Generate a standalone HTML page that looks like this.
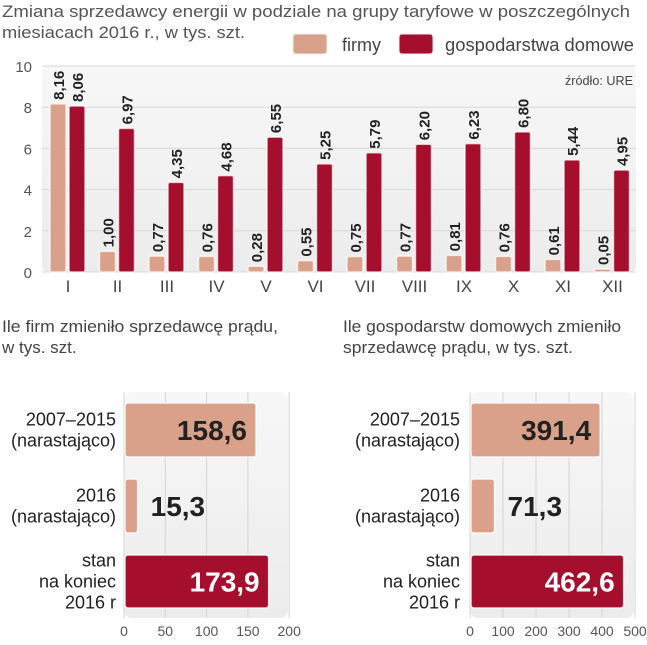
<!DOCTYPE html>
<html><head><meta charset="utf-8"><style>
body{margin:0;background:#fff;width:647px;height:640px;overflow:hidden;font-family:"Liberation Sans",sans-serif}
svg text{font-family:"Liberation Sans",sans-serif}
</style></head><body>
<svg id="c" width="647" height="640" xmlns="http://www.w3.org/2000/svg">
<defs>
<linearGradient id="bg" x1="0" y1="0" x2="0" y2="1"><stop offset="0" stop-color="#f7f7f7"/><stop offset="1" stop-color="#ececec"/></linearGradient>
</defs>
<text x="2" y="17" font-size="17" fill="#555" textLength="628" lengthAdjust="spacingAndGlyphs">Zmiana sprzedawcy energii w podziale na grupy taryfowe w poszczególnych</text>
<text x="2" y="38" font-size="17" fill="#555" textLength="243" lengthAdjust="spacingAndGlyphs">miesiacach 2016 r., w tys. szt.</text>
<rect x="293" y="34" width="34" height="20" rx="3" fill="#d9a08a" stroke="#eee"/>
<text x="342" y="51" font-size="18" fill="#444">firmy</text>
<rect x="399" y="34" width="34" height="20" rx="3" fill="#a50f2d" stroke="#eee"/>
<text x="445" y="51" font-size="18" fill="#444" textLength="189" lengthAdjust="spacingAndGlyphs">gospodarstwa domowe</text>
<rect x="42" y="66" width="594" height="206" rx="6" fill="url(#bg)"/>
<text x="633" y="85" font-size="13" fill="#444" text-anchor="end" textLength="68" lengthAdjust="spacingAndGlyphs">źródło: URE</text>
<g id="topchart"></g>
<text x="2" y="332" font-size="17" fill="#444" textLength="276" lengthAdjust="spacingAndGlyphs">Ile firm zmieniło sprzedawcę prądu,</text>
<text x="2" y="353" font-size="17" fill="#444">w tys. szt.</text>
<text x="343" y="332" font-size="17" fill="#444" textLength="278" lengthAdjust="spacingAndGlyphs">Ile gospodarstw domowych zmieniło</text>
<text x="343" y="353" font-size="17" fill="#444" textLength="230" lengthAdjust="spacingAndGlyphs">sprzedawcę prądu, w tys. szt.</text>
<g id="bl"></g><g id="br"></g>
</svg>
<script>
const months=["I","II","III","IV","V","VI","VII","VIII","IX","X","XI","XII"];
const firmy=[8.16,1.00,0.77,0.76,0.28,0.55,0.75,0.77,0.81,0.76,0.61,0.05];
const households=[8.06,6.97,4.35,4.68,6.55,5.25,5.79,6.20,6.23,6.80,5.44,4.95];
const yTicks=[0,2,4,6,8,10];
const rowLabels=[["2007–2015","(narastająco)"],["2016","(narastająco)"],["stan","na koniec","2016 r"]];
const firmsTotals=[158.6,15.3,173.9];
const householdTotals=[391.4,71.3,462.6];
const leftTicks=[0,50,100,150,200];
const rightTicks=[0,100,200,300,400,500];
const NS="http://www.w3.org/2000/svg";
function mk(p,t,a,txt){const e=document.createElementNS(NS,t);for(const k in a)e.setAttribute(k,a[k]);if(txt!=null)e.textContent=txt;p.appendChild(e);return e;}
const fmt=v=>v.toFixed(2).replace('.',',');
const topG=document.getElementById('topchart');
const yS=v=>272-v*20.6, xS=i=>68+i*49.5;
yTicks.forEach(t=>{
 const l=mk(topG,'line',{x1:42,x2:636,y1:yS(t),y2:yS(t),stroke:'#d8d8d8','stroke-width':1});
 
 
 const tx=mk(topG,'text',{x:32,y:yS(t)+6,'font-size':15,fill:'#555','text-anchor':'end'},t);
 
 
});
months.forEach((m,i)=>{
 const c=xS(i);
 [[firmy[i],c-18,'#d9a08a','bar-firmy'],[households[i],c+1,'#a50f2d','bar-households']].forEach(([v,bx,col,nm])=>{
  const h=Math.max(v*20.6,3);
  const r=mk(topG,'rect',{x:bx,y:272-h,width:16,height:h,rx:2,fill:col,stroke:'#fff','stroke-opacity':0.7,'stroke-width':1.5});
  
  
  const tx=mk(topG,'text',{transform:`translate(${bx+14},${272-h-4}) rotate(-90)`,'font-size':15,'font-weight':'bold',fill:'#222'},fmt(v));
  
  
 });
 const lb=mk(topG,'text',{x:c,y:292,'font-size':17,fill:'#444','text-anchor':'middle'},m);
 
 
});
function hbar(g,x0,scale,right,ticks,vals,labelX){
 const bg=mk(g,'rect',{x:x0,y:392,width:right-x0,height:226,rx:8,fill:'url(#bg)'});
 
 
 ticks.forEach(t=>{
  const X=x0+t*scale;
  const l=mk(g,'line',{x1:X,x2:X,y1:392,y2:618,stroke:'#d4d4d4'});
  
  
  const tx=mk(g,'text',{x:X,y:636,'font-size':14,fill:'#555','text-anchor':'middle'},t);
  
  
 });
 const rows=[[403,54],[479,54],[555,53]];
 vals.forEach((v,i)=>{
  const [ry,rh]=rows[i];const w=v*scale;const col=i==2?'#a50f2d':'#d9a08a';
  const r=mk(g,'rect',{x:x0+1,y:ry,width:w,height:rh,rx:3,fill:col,stroke:'#fff','stroke-opacity':0.8,'stroke-width':1.5});
  
  
  const txt=v.toFixed(1).replace('.',',');
  const inside=w>60;
  const tx=mk(g,'text',{x:inside?x0+w-8:x0+w+14,y:ry+rh/2+10,'font-size':28,'font-weight':'bold',fill:i==2?'#fff':'#222','text-anchor':inside?'end':'start'},txt);
  
  
  const lines=rowLabels[i];const cy=ry+rh/2;const n=lines.length;
  lines.forEach((s,j)=>{
   const t=mk(g,'text',{x:labelX,y:cy+(j-(n-1)/2)*21+6,'font-size':18,fill:'#222','text-anchor':'end'},s);
   
   
  });
 });
}
hbar(document.getElementById('bl'),124,0.826,288,leftTicks,firmsTotals,116);
hbar(document.getElementById('br'),470,0.33,634,rightTicks,householdTotals,460);
</script>
</body></html>
